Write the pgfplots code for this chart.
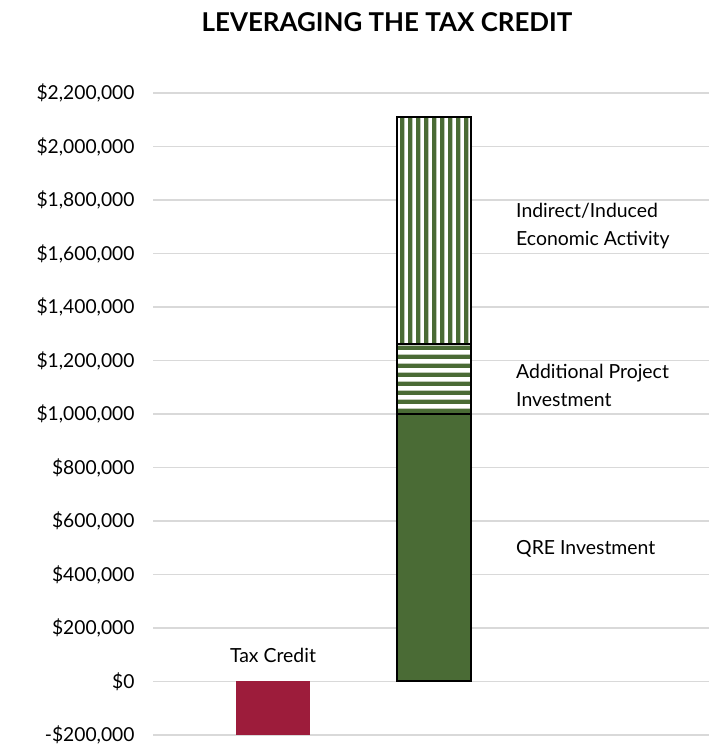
\documentclass[border=0pt]{standalone}
\usepackage{pgfplots}
\pgfplotsset{compat=1.18}
\usetikzlibrary{patterns}
\usepackage{fontspec}
\setmainfont{Lato}
\definecolor{qgreen}{HTML}{4A6B35}
\definecolor{taxred}{HTML}{9D1C3B}
\definecolor{gridgray}{HTML}{D9D9D9}
% stripe patterns used on the stacked bar (long tiles, so no seams show)
\pgfdeclarepatternformonly{vstripes}{\pgfqpoint{0bp}{0bp}}{\pgfqpoint{8bp}{800bp}}{\pgfqpoint{8bp}{800bp}}%
  {\pgfpathrectangle{\pgfqpoint{0bp}{0bp}}{\pgfqpoint{4.8bp}{800bp}}\pgfusepath{fill}}
\pgfdeclarepatternformonly{hstripes}{\pgfqpoint{0bp}{0bp}}{\pgfqpoint{800bp}{9.3bp}}{\pgfqpoint{800bp}{9.3bp}}%
  {\pgfpathrectangle{\pgfqpoint{0bp}{0bp}}{\pgfqpoint{800bp}{4.8bp}}\pgfusepath{fill}}
\pgfplotsset{
  base/.style={
    at={(153bp,12bp)}, anchor=south west,
    scale only axis, width=556bp, height=642bp,
    xmin=-0.743, xmax=2.70, ymin=-200000, ymax=2200000,
  },
}
\begin{document}
\begin{tikzpicture}[x=1bp,y=1bp]
\path[use as bounding box] (0,0) rectangle (709,747);
\begin{axis}[base,
    axis line style={draw=none},
    major tick length=0pt,
    xtick=\empty,
    scaled y ticks=false,
    ytick={-200000,0,200000,400000,600000,800000,1000000,1200000,1400000,1600000,1800000,2000000,2200000},
    yticklabels={{-\$200,000},{\$0},{\$200,000},{\$400,000},{\$600,000},{\$800,000},{\$1,000,000},{\$1,200,000},{\$1,400,000},{\$1,600,000},{\$1,800,000},{\$2,000,000},{\$2,200,000}},
    yticklabel style={font=\fontsize{19.3}{22}\selectfont, anchor=east, xshift=-15bp},
    ymajorgrids, grid style={gridgray, line width=1.5bp},
  ]
\addplot[ybar, bar width=74bp, bar shift=0pt, fill=taxred, draw=none] coordinates {(0,-200000)};
% white backing under the striped part of the stack
\addplot[ybar, bar width=74bp, bar shift=0pt, fill=white, draw=none] coordinates {(1,2110000)};
\end{axis}
\begin{axis}[base, hide axis, ybar stacked, bar width=74bp]
% QRE investment
\addplot[fill=qgreen, draw=black, line width=2bp] coordinates {(1,1000000)};
% additional project investment
\addplot[pattern=hstripes, pattern color=qgreen, draw=black, line width=2bp] coordinates {(1,260000)};
% indirect / induced activity
\addplot[pattern=vstripes, pattern color=qgreen, draw=black, line width=2bp] coordinates {(1,850000)};
\end{axis}
\node[font=\bfseries\fontsize{26}{30}\selectfont] at (387,725) {LEVERAGING THE TAX CREDIT};
\node[font=\fontsize{19.5}{22}\selectfont] at (273,92) {Tax Credit};
\begin{scope}[every node/.style={anchor=west, align=left, inner sep=0pt, font=\fontsize{19.5}{28}\selectfont}]
\node at (516,521) {Indirect/Induced\\Economic Activity};
\node at (516,362) {Additional Project\\Investment};
\node at (516,198) {QRE Investment};
\end{scope}
\end{tikzpicture}
\end{document}
